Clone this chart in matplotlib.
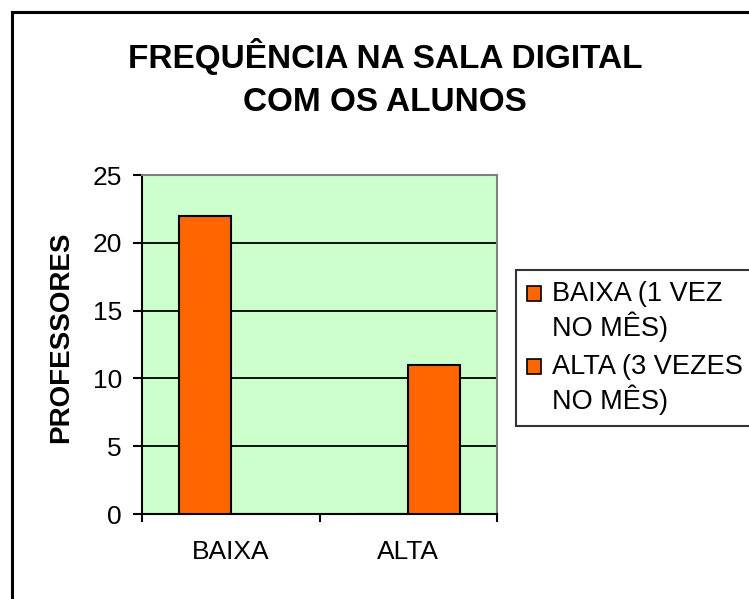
import matplotlib
matplotlib.use("Agg")
import matplotlib.pyplot as plt
from matplotlib.patches import Rectangle
from matplotlib.lines import Line2D
from matplotlib.legend_handler import HandlerPatch

plt.rcParams['font.family'] = ['Liberation Sans', 'DejaVu Sans']

categories = ['BAIXA', 'ALTA']
series_names = ['BAIXA (1 VEZ\nNO MÊS)', 'ALTA (3 VEZES\nNO MÊS)']
baixa_vals = [22, 0]
alta_vals = [0, 11]
yticks = [0, 5, 10, 15, 20, 25]

ORANGE = '#FF6600'
GREEN = '#CCFFCC'


class TopHandler(HandlerPatch):
    # put the legend key next to the first line of a two-line label
    def create_artists(self, legend, orig_handle, xdescent, ydescent,
                       width, height, fontsize, trans):
        p = Rectangle((-xdescent, -ydescent + 0.68 * fontsize), width, height,
                      facecolor=ORANGE, edgecolor='black', linewidth=1.2, transform=trans)
        return [p]


fig = plt.figure(figsize=(7.49, 5.99), dpi=100)
ax = fig.add_axes([0.1896, 0.1419, 0.474, 0.5659])
ax.set_facecolor(GREEN)

w = 0.29
x = [0, 1]
ax.bar([i - w / 2 for i in x], baixa_vals, w, color=ORANGE, edgecolor='black', linewidth=1.5, zorder=3)
ax.bar([i + w / 2 for i in x], alta_vals, w, color=ORANGE, edgecolor='black', linewidth=1.5, zorder=3)

ax.set_xlim(-0.5, 1.5)
ax.set_ylim(0, 25)
ax.set_yticks(yticks)
ax.yaxis.grid(True, color='black', linewidth=1.3, zorder=1)
ax.set_axisbelow(True)

# category ticks on the boundaries, labels in the middle
ax.set_xticks([-0.5, 0.5, 1.5])
ax.set_xticklabels(['', '', ''])
ax.set_xticks(x, minor=True)
ax.set_xticklabels(categories, minor=True)
ax.tick_params(axis='x', which='minor', length=0, pad=19, labelsize=19)
ax.tick_params(axis='x', which='major', direction='out', length=6, width=1.5)
ax.tick_params(axis='y', direction='out', length=6.5, width=1.5, pad=8, labelsize=19)

for s in ['left', 'bottom']:
    ax.spines[s].set_color('black')
    ax.spines[s].set_linewidth(1.5)
for s in ['top', 'right']:
    ax.spines[s].set_color('#808080')
    ax.spines[s].set_linewidth(1.5)

ax.set_ylabel('PROFESSORES', fontsize=20, fontweight='bold')
ax.yaxis.set_label_coords(-0.19, 0.522)

fig.text(0.514, 0.870, 'FREQUÊNCIA NA SALA DIGITAL\nCOM OS ALUNOS', ha='center', va='center',
         fontsize=24, fontweight='bold', linespacing=1.5)

handles = [Rectangle((0, 0), 1, 1) for _ in series_names]
leg = fig.legend(handles, series_names, loc='upper left', bbox_to_anchor=(0.689, 0.549),
                 fontsize=19.5, frameon=True, fancybox=False, edgecolor='black',
                 handlelength=0.52, handleheight=0.52, handletextpad=0.4, labelspacing=0.45,
                 borderpad=0.4, borderaxespad=0,
                 handler_map={Rectangle: TopHandler()})
leg.get_frame().set_linewidth(1.5)
for t in leg.get_texts():
    t.set_linespacing(1.18)

# outer chart border (cut off at right and bottom)
fig.add_artist(Line2D([11.5 / 749, 11.5 / 749], [0, 1 - 11.5 / 599], color='black', linewidth=2.2))
fig.add_artist(Line2D([11.5 / 749, 1], [1 - 11.5 / 599, 1 - 11.5 / 599], color='black', linewidth=2.2))

fig.savefig('out.png', dpi=100)
